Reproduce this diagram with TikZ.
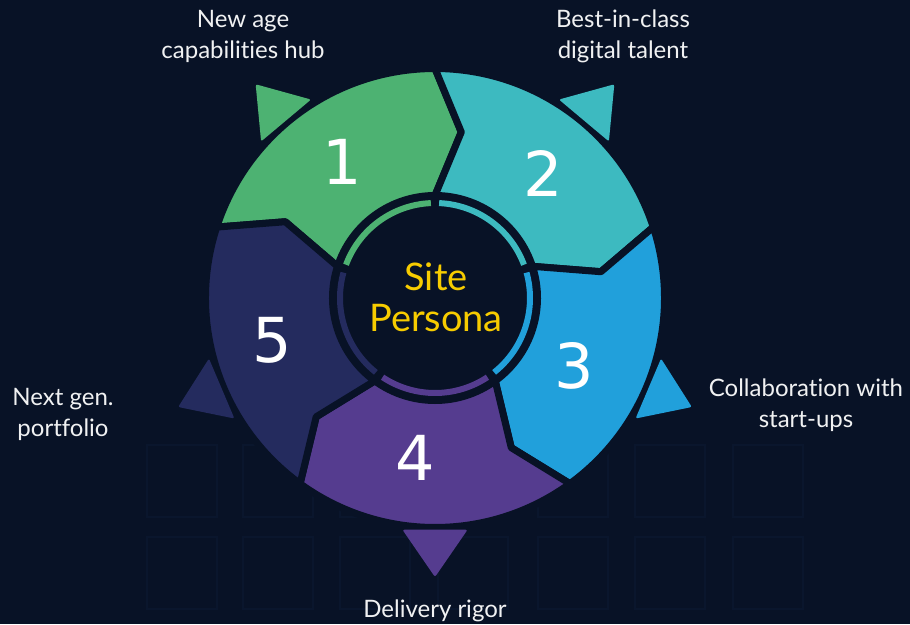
\documentclass[tikz,border=0pt]{standalone}
\usepackage{fontspec}
\setmainfont{Lato}[Ligatures=NoCommon]
\newfontfamily\numfont{DejaVu Sans}
\definecolor{bg}{HTML}{081226}
\definecolor{faint}{HTML}{0A162D}
\definecolor{segone}{HTML}{4DB272}
\definecolor{segtwo}{HTML}{3DBAC0}
\definecolor{segthree}{HTML}{21A0DB}
\definecolor{segfour}{HTML}{553C8F}
\definecolor{segfive}{HTML}{242B5E}
\definecolor{personacol}{HTML}{F7CC00}
\newcommand\rinner{102.5}
\newcommand\rmiddle{168}
\newcommand\router{229.5}

\begin{document}
\begin{tikzpicture}[x=1pt, y=1pt,
  wedge/.style={draw=bg, line width=7pt, line join=round},
  caption/.style={text=white!94!bg, align=center, font=\fontsize{24}{31}\selectfont},
  number/.style={text=white, font=\numfont\fontsize{62}{62}\selectfont}]
\fill[bg] (-435,-326) rectangle (475,298);
\useasboundingbox (-435,-326) rectangle (475,298);

% faint squares in the background
\foreach \sx in {147,243,340,438,538,635,733}
  \foreach \sy in {445,537}
    \draw[faint, line width=2.5pt] (\sx-435, 298-\sy) rectangle ++(70,-72);

% the five arrow wedges
\foreach \a/\col in {162/segone, 90/segtwo, 18/segthree, -54/segfour, -126/segfive}
  \filldraw[wedge, fill=\col] (\a:\rinner) -- ({\a-9}:\rmiddle) -- (\a:\router)
    arc[start angle=\a, end angle=\a-72, radius=\router]
    -- ({\a-81}:\rmiddle) -- ({\a-72}:\rinner)
    arc[start angle=\a-72, end angle=\a, radius=\rinner] -- cycle;

% thin ring round the centre
\foreach \a/\col in {162/segone, 90/segtwo, 18/segthree, -54/segfour, -126/segfive}
  \draw[\col, line width=6pt] ({\a-69.5}:95) arc[start angle=\a-69.5, end angle=\a-2.5, radius=95];

% pointers
\foreach \t/\col in {130/segone, 50/segtwo, -23/segthree, -90/segfour, -157/segfive}
  \fill[\col, rounded corners=2pt] ({\t+8}:234) -- (\t:279) -- ({\t-8}:234) -- cycle;

\node[number] (n1) at (-93,136) {1};
\node[number] (n2) at (108,125) {2};
\node[number] (n3) at (139,-68) {3};
\node[number] (n4) at (-20,-160) {4};
\node[number] (n5) at (-163,-42) {5};

\node[text=personacol, align=center, font=\fontsize{38}{41}\selectfont] (persona) at (1,1) {Site\\Persona};

\node[caption] (hub) at (-192,262) {New age\\capabilities hub};
\node[caption] (talent) at (188,262) {Best-in-class\\digital talent};
\node[caption] (startups) at (371,-107) {Collaboration with\\start-ups};
\node[caption] (portfolio) at (-372,-116) {Next gen.\\portfolio};
\node[caption] (rigor) at (0,-313) {Delivery rigor};
\end{tikzpicture}
\end{document}
